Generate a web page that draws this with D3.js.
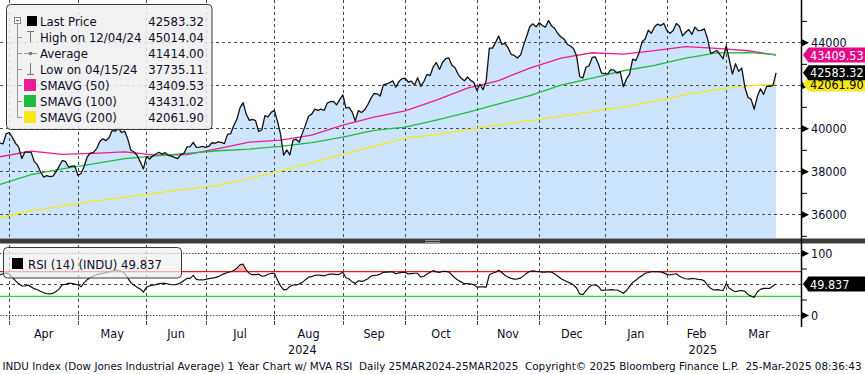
<!DOCTYPE html>
<html><head><meta charset="utf-8">
<script src="https://cdn.jsdelivr.net/npm/d3@7"></script>
<style>
body{margin:0;background:#fff;}
svg{display:block;font-family:"DejaVu Sans Condensed","Liberation Sans",sans-serif;}
</style></head><body>
<svg id="c" width="865" height="374"></svg>
<script>
// ---------------- DATA ----------------
const startDate = "2024-03-25";
const axisEndDate = "2025-03-31";
const holidays = ["2024-03-29","2024-05-27","2024-06-19","2024-07-04","2024-09-02","2024-11-28","2024-12-25","2025-01-01","2025-01-09","2025-01-20","2025-02-17"];

const closePrices = [
 39313,39282,39760,39807,
 39567,39300,39127,38596,38904,38892,38884,38461,38300,37983,37735.11,37799,37753,37775,37986,38240,38504,38461,38200,38240,38250,37816,
 37903,38226,38676,38852,38884,39056,39388,39513,39432,39558,39908,39869,40004,39807,39873,39500,38980,38900,38750,38442,38112,38686,
 38571,38711,38807,38886,38799,38868,38747,38712,38647,38589,38778,38835,39134,39150,39350,39112,39128,39164,39119,
 39169,39331,39308,39375,39344,39291,39721,39753,40130,40420,40954,41198,40665,40370,40415,40358,39853,39935,40589,40539,40743,40843,
 40347,39737,38750,38997,38763,39446,39497,39357,39766,40150,40563,40660,40897,40834,40890,40830,41175,41240,41250,41091,41335,41563,
 40937,40975,40755,40345,40829,40737,40861,41097,41394,41622,41606,41504,42025,42063,42125,42208,41915,42175,42313,42330,
 42156,42196,42011,42353,41954,42180,42512,42454,42864,43065,42740,43077,43239,43276,42932,42820,42514,42330,42210,42387,42233,42142,41763,
 42052,41795,42222,43730,43729,43989,44293,43911,43958,43751,43445,43390,43269,43408,43870,44297,44736,44860,44722,44911,
 44782,44705,45014.04,44766,44643,44402,44248,44149,43914,43828,43717,43360,42400,42343,42841,42907,43297,43326,42992,42574,42544,
 42530,42732,42707,42570,42636,41938,42297,42518,43222,43153,43488,44026,44157,44565,44424,44714,44851,44780,44882,44545,
 44422,44556,44873,44748,44303,44470,44593,44368,44711,44546,44556,44628,44177,43500,43550,43621,43433,43240,43841,
 43191,42521,43006,42650,42802,41912,41434,41350,40890,41488,41841,41581,41965,41953,41985,42583.32
];

const smaIdx = [0,10,20,30,40,50,60,70,80,90,100,110,120,130,140,150,160,170,180,190,200,210,220,230,240,249];
const sma50  = [38679,38944,38791,38837,38907,38758,38781,39061,39360,39451,39688,40154,40526,40814,41316,41874,42223,42805,43270,43517,43456,43619,43805,43721,43609,43409.53];
const sma100 = [37396,37851,38117,38349,38591,38717,38837,38958,39037,39163,39340,39595,39907,40061,40386,40740,41140,41526,42014,42340,42679,42930,43270,43512,43526,43431.02];
const sma200 = [35842,36177,36386,36619,36805,36991,37177,37363,37665,38023,38386,38805,39177,39540,39712,39944,40163,40363,40572,40782,40991,41270,41572,41805,41967,42061.90];

const rsi14 = [
 64.5,66.5,67.6,66,
 60.5,55,50.5,47,46.8,48.2,45.4,42.5,40.8,38.4,35.9,34.5,34.2,35,38,42.2,49,49.5,51,51,49.7,48.4,
 45.5,52.2,57,60.6,62.9,65,66.4,67.2,68.3,69.5,71,72.5,71.8,70.3,67.6,59.5,52.2,48.5,44.6,42,37,45,
 46.8,48.2,49,50.5,51,51,50,48.8,48.8,49.8,52,55.6,59,59,64,57.4,56.5,56.5,57.5,
 58.6,59.5,60.3,61.8,64.5,66.8,68.5,69.8,71.8,75.5,81,82,72.5,67,65,65.2,65.8,62.5,63,65.7,67,67.3,
 57,47,40.5,41.3,46,48.4,48.4,50,52.6,57,61,61.8,64,64.5,64,63.2,65,66,66,65,66,69,
 60,58,53.5,51,55.3,54.3,55.5,58.5,62.5,64,64.3,66,68.8,69.2,69.5,69.5,66.5,68,68.8,68.8,
 66.2,66.8,67.3,67.3,61,62.5,66,69,71.5,69.5,68.5,70.5,70.3,69.5,64.5,59.5,56,53,50.5,50.5,50,49,45,
 45.5,45.5,45,65,67.3,69,72.3,68.5,64,61,59,57.8,58.3,59.5,63.5,67.3,70.5,71.2,70.3,70,
 69.3,69.3,69.8,69,66,62.5,58.5,56,53.5,51.5,48.4,43.5,34,33,39,45,48.4,48.4,46,39.5,40,
 40.3,41,40.5,40.3,38,35,39.5,46,52.5,56,60.5,63.5,67.3,68.5,69.8,69.8,69.8,69.6,68,65.5,
 64.5,65.7,66.5,62.5,60,58.5,58,59,58.5,57.5,57,55,48,43,40.3,41,40,39.5,50.5,
 43,39.8,37.5,38.8,39.5,38,33,30.4,28.5,37.5,41.3,43,43,43,46.8,49.837
];

const monthNames = ["Jan","Feb","Mar","Apr","May","Jun","Jul","Aug","Sep","Oct","Nov","Dec"];
const priceTicks = [36000,38000,40000,42000,44000];
const priceLabelHidden = [42000];   // label sits under the SMAVG(200) tag in the reference
const priceMinorTicks = [35000,37000,39000,41000,43000,45000];
const rsiTicks = [0,100];
const rsiMinorTicks = [25,75];
const rsiGridLevels = [50];
const rsiBands = [70,30];

const legendLabels = ["Last Price","High on 12/04/24","Average","Low on 04/15/24","SMAVG (50)","SMAVG (100)","SMAVG (200)"];
const legendValues = ["42583.32","45014.04","41414.00","37735.11","43409.53","43431.02","42061.90"];
const rsiLegendText = "RSI (14) (INDU) 49.837";
const tagValues = {sma200:"42061.90", last:"42583.32", sma50:"43409.53", rsi:"49.837"};
const footerText = "INDU Index (Dow Jones Industrial Average) 1 Year Chart w/ MVA RSI  Daily 25MAR2024-25MAR2025  Copyright\u00A9 2025 Bloomberg Finance L.P.  25-Mar-2025 08:36:43";

// ---------------- STYLE ----------------
const C = {fill:"#cce4fc", line:"#111", m50:"#ec1c94", m100:"#1fba3e", m200:"#f7e81a",
  grid:"#4a4a4a", red:"#ff1010", green:"#22dd22", text:"#0c0c28"};

// ---------------- DATES ----------------
const parse = d3.utcParse("%Y-%m-%d"), fmt = d3.utcFormat("%Y-%m-%d");
const hol = new Set(holidays);
const days = [];
for (let d = parse(startDate); d <= parse(axisEndDate); d = d3.utcDay.offset(d, 1)) {
  const wd = d.getUTCDay();
  if (wd === 0 || wd === 6 || hol.has(fmt(d))) continue;
  days.push(d);
}
const lastIdx = days.length - 1;

// ---------------- SCALES ----------------
const AX = 801, W = 865;
const x = d3.scaleLinear().domain([0, 257]).range([0, AX]);
const yP = d3.scaleLinear().domain([34900, 45970]).range([238, 0]);
const yR = d3.scaleLinear().domain([0, 100]).range([315, 253]);

const svg = d3.select("#c");
const defs = svg.append("defs");
defs.append("clipPath").attr("id","cpMain").append("rect").attr("x",0).attr("y",0).attr("width",AX).attr("height",238);
defs.append("clipPath").attr("id","cpRsi").append("rect").attr("x",0).attr("y",245).attr("width",AX).attr("height",80);

const bounds = [];
for (let k = 1; k <= lastIdx; k++) {
  if (days[k].getUTCMonth() !== days[k-1].getUTCMonth()) bounds.push({idx: k-1, first: k});
}

// ---------------- MAIN PANEL ----------------
const main = svg.append("g").attr("clip-path","url(#cpMain)");
const pts = closePrices.map((v,i)=>[i,v]);
main.append("path").datum(pts)
  .attr("d", d3.area().x(d=>x(d[0])).y0(238).y1(d=>yP(d[1])))
  .attr("fill", C.fill);

main.selectAll(".hg").data(priceTicks).join("line")
  .attr("x1",0).attr("x2",AX).attr("y1",d=>Math.round(yP(d))+0.5).attr("y2",d=>Math.round(yP(d))+0.5)
  .attr("stroke",C.grid).attr("stroke-dasharray","3,3");
main.selectAll(".vg").data(bounds).join("line")
  .attr("x1",d=>Math.round(x(d.idx))+0.5).attr("x2",d=>Math.round(x(d.idx))+0.5).attr("y1",0).attr("y2",238)
  .attr("stroke",C.grid).attr("stroke-dasharray","3,3");

const smaLine = d3.line().x(d=>x(d[0])).y(d=>yP(d[1]));
[[sma200,C.m200],[sma50,C.m50],[sma100,C.m100]].forEach(([arr,col])=>{
  main.append("path").datum(smaIdx.map((i,k)=>[i,arr[k]]))
    .attr("d", smaLine).attr("fill","none").attr("stroke",col).attr("stroke-width",1.3);
});
main.append("path").datum(pts)
  .attr("d", d3.line().x(d=>x(d[0])).y(d=>yP(d[1])))
  .attr("fill","none").attr("stroke",C.line).attr("stroke-width",1.3).attr("stroke-linejoin","round");

// legend
const lg = svg.append("g");
lg.append("rect").attr("x",6.5).attr("y",4.5).attr("width",205.5).attr("height",125).attr("rx",4)
  .attr("fill","#eeeeee").attr("fill-opacity",0.85).attr("stroke","#3a3a3a");
const rowY = i => 21 + i*16;
lg.append("rect").attr("x",14.5).attr("y",17.5).attr("width",6).attr("height",6).attr("fill","#fff").attr("stroke","#888");
lg.append("line").attr("x1",16).attr("x2",19).attr("y1",20.5).attr("y2",20.5).attr("stroke","#555");
lg.append("line").attr("x1",17.5).attr("x2",17.5).attr("y1",24).attr("y2",rowY(6)+0.5).attr("stroke","#999");
d3.range(1,7).forEach(i=>lg.append("line").attr("x1",17.5).attr("x2",22).attr("y1",rowY(i)+0.5).attr("y2",rowY(i)+0.5).attr("stroke","#999"));
lg.append("rect").attr("x",27).attr("y",16).attr("width",10).attr("height",10).attr("fill","#000");
lg.append("path").attr("d",`M27,${rowY(1)-5.5}H34M30.5,${rowY(1)-5.5}V${rowY(1)+5}`).attr("stroke","#777").attr("fill","none");
lg.append("path").attr("d",`M24,${rowY(2)+0.5}H37`).attr("stroke","#999");
lg.append("circle").attr("cx",30.5).attr("cy",rowY(2)+0.5).attr("r",1.8).attr("fill","#777");
lg.append("path").attr("d",`M30.5,${rowY(3)-6}V${rowY(3)+5.5}M27,${rowY(3)+5.5}H34`).attr("stroke","#777").attr("fill","none");
[C.m50,C.m100,C.m200].forEach((c,k)=>lg.append("rect").attr("x",24).attr("y",rowY(4+k)-6).attr("width",12).attr("height",12).attr("fill",c));
lg.selectAll(".ll").data(legendLabels).join("text")
  .attr("x",40).attr("y",(d,i)=>rowY(i)+4.8).text(d=>d)
  .attr("font-size",13).attr("fill",C.text);
lg.selectAll(".lv").data(legendValues).join("text")
  .attr("x",204).attr("y",(d,i)=>rowY(i)+4.8).attr("text-anchor","end").text(d=>d)
  .attr("font-size",13).attr("fill",C.text);

// ---------------- SEPARATOR ----------------
svg.append("rect").attr("x",0).attr("y",238.5).attr("width",W).attr("height",5).attr("fill","#3c3c3c");
svg.append("path").attr("d","M425,240.5H440M425,242.5H440").attr("stroke","#aaa").attr("stroke-width",0.8);

// ---------------- RSI PANEL ----------------
const rp = svg.append("g").attr("clip-path","url(#cpRsi)");
rp.selectAll(".vg").data(bounds).join("line")
  .attr("x1",d=>Math.round(x(d.idx))+0.5).attr("x2",d=>Math.round(x(d.idx))+0.5).attr("y1",245).attr("y2",325)
  .attr("stroke",C.grid).attr("stroke-dasharray","3,3");
rp.selectAll(".rg").data(rsiTicks).join("line")
  .attr("x1",0).attr("x2",AX).attr("y1",d=>Math.round(yR(d))+0.5).attr("y2",d=>Math.round(yR(d))+0.5)
  .attr("stroke",C.grid).attr("stroke-dasharray","1.5,1.5");
rp.selectAll(".rg2").data(rsiGridLevels).join("line")
  .attr("x1",0).attr("x2",AX).attr("y1",d=>Math.round(yR(d))+0.5).attr("y2",d=>Math.round(yR(d))+0.5)
  .attr("stroke",C.grid).attr("stroke-dasharray","3,3");
const rpts = rsi14.map((v,i)=>[i,v]);
rp.append("path").datum(rpts)
  .attr("d", d3.area().x(d=>x(d[0])).y0(yR(70)).y1(d=>yR(Math.max(70,d[1]))))
  .attr("fill","#ffb8b8");
rp.append("path").datum(rpts)
  .attr("d", d3.area().x(d=>x(d[0])).y0(yR(30)).y1(d=>yR(Math.min(30,d[1]))))
  .attr("fill","#b8f0b8");
rp.selectAll(".band").data(rsiBands).join("line")
  .attr("x1",0).attr("x2",AX).attr("y1",d=>yR(d)).attr("y2",d=>yR(d))
  .attr("stroke",(d,i)=>i===0?C.red:C.green).attr("stroke-width",1.2);
rp.append("path").datum(rpts)
  .attr("d", d3.line().x(d=>x(d[0])).y(d=>yR(d[1])))
  .attr("fill","none").attr("stroke",C.line).attr("stroke-width",1.2).attr("stroke-linejoin","round");

const rl = svg.append("g");
rl.append("rect").attr("x",3.5).attr("y",247.5).attr("width",178).attr("height",30.5).attr("rx",4)
  .attr("fill","#f0f0f0").attr("fill-opacity",0.7).attr("stroke","#3a3a3a");
rl.append("rect").attr("x",12).attr("y",258).attr("width",11).attr("height",11).attr("fill","#000");
rl.append("text").attr("x",28).attr("y",268.5).attr("font-size",13).attr("fill",C.text).text(rsiLegendText);

// ---------------- X AXIS ----------------
const xa = svg.append("g");
xa.selectAll(".xt").data(bounds).join("line")
  .attr("x1",d=>Math.round(x(d.idx))+0.5).attr("x2",d=>Math.round(x(d.idx))+0.5).attr("y1",315).attr("y2",323)
  .attr("stroke",C.grid).attr("stroke-dasharray","3,3");
const segs = bounds.map((b,j)=>({
  name: monthNames[days[b.first].getUTCMonth()],
  a: b.idx, b: j+1<bounds.length ? bounds[j+1].idx : lastIdx
}));
xa.selectAll(".ml").data(segs).join("text")
  .attr("x",d=>x((d.a+d.b)/2)).attr("y",338).attr("text-anchor","middle")
  .attr("font-size",12.5).attr("fill",C.text).text(d=>d.name);
const yearSegs = d3.groups(days.map((d,i)=>({y:d.getUTCFullYear(), i})), d=>d.y).map(([yr, arr])=>{
  const a = arr[0].i === 0 ? 0 : x(arr[0].i - 1);
  const b = yr === days[lastIdx].getUTCFullYear() ? AX : x(arr[arr.length-1].i);
  return {yr, c:(a+b)/2};
});
xa.selectAll(".yl").data(yearSegs).join("text")
  .attr("x",d=>d.c).attr("y",354).attr("text-anchor","middle")
  .attr("font-size",12.5).attr("fill",C.text).text(d=>d.yr);

// ---------------- RIGHT AXES ----------------
svg.append("line").attr("x1",AX+0.5).attr("x2",AX+0.5).attr("y1",0).attr("y2",327).attr("stroke","#000").attr("stroke-width",1.5);
function rightAxis(scale, major, minor, fmtF) {
  const g = svg.append("g").attr("transform",`translate(${AX+1},0)`);
  g.call(d3.axisRight(scale).tickValues(minor).tickSize(5).tickFormat(""));
  const gm = svg.append("g").attr("transform",`translate(${AX+1},0)`);
  gm.call(d3.axisRight(scale).tickValues(major).tickSize(0).tickPadding(9).tickFormat(fmtF));
  [g,gm].forEach(q=>q.select(".domain").remove());
  g.selectAll("line").attr("stroke","#000");
  gm.selectAll(".tick").append("path").attr("d","M0,-3.5L7,0L0,3.5Z").attr("fill","#000");
  gm.selectAll("text").attr("font-size",12.5).attr("fill",C.text);
  gm.attr("font-family",null);
}
rightAxis(yP, priceTicks, priceMinorTicks, d => priceLabelHidden.includes(d) ? "" : d3.format("d")(d));
rightAxis(yR, rsiTicks, rsiMinorTicks, d3.format("d"));

// value tags
function tag(yv, label, bg, fg) {
  const g = svg.append("g").attr("transform",`translate(0,${yv})`);
  g.append("path").attr("d",`M803,0L808.5,-7.5H865V7.5H808.5Z`).attr("fill",bg);
  g.append("text").attr("x",810).attr("y",4.6).attr("font-size",12.5).attr("fill",fg).text(label);
}
tag(yP(sma200[sma200.length-1]), tagValues.sma200, C.m200, "#000");
tag(yP(closePrices[closePrices.length-1]), tagValues.last, "#000", "#fff");
tag(yP(sma50[sma50.length-1]), tagValues.sma50, "#e4088a", "#fff");
tag(yR(rsi14[rsi14.length-1]), tagValues.rsi, "#000", "#fff");

// ---------------- FOOTER ----------------
svg.append("text").attr("x",2.5).attr("y",370).attr("font-size",11).attr("fill",C.text)
  .attr("textLength",859).attr("lengthAdjust","spacingAndGlyphs")
  .style("white-space","pre").text(footerText);
</script>
</body></html>
